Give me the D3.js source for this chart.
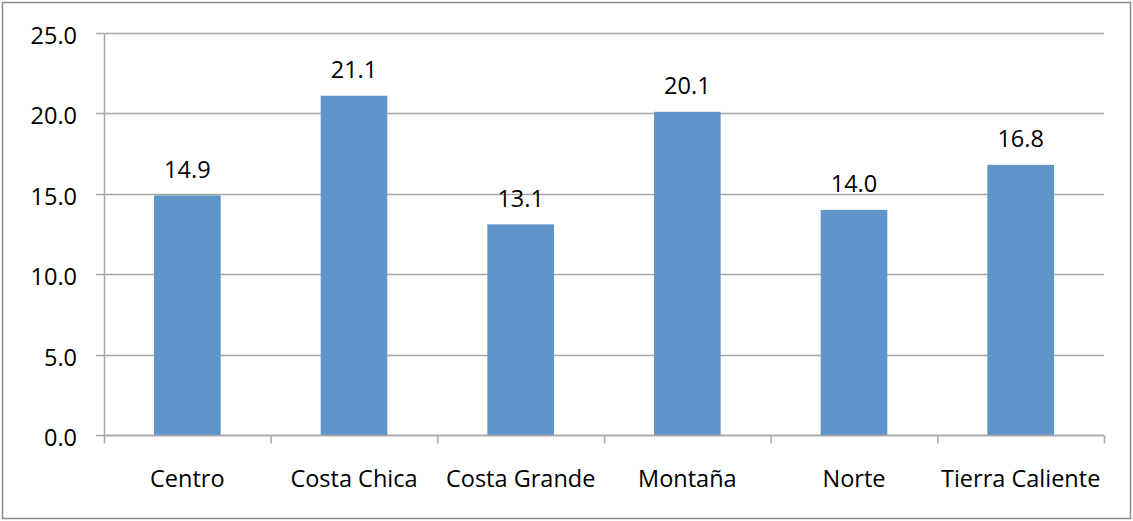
<!DOCTYPE html>
<html>
<head>
<meta charset="utf-8">
<script src="https://cdn.jsdelivr.net/npm/d3@7"></script>
<style>
  html, body { margin: 0; padding: 0; background: #fff; }
  svg text { font-family: "Open Sans", "Noto Sans", sans-serif; fill: #000; }
</style>
</head>
<body>
<svg id="chart" width="1133" height="521"></svg>
<script>
// Regions and their values
const regions = ["Centro", "Costa Chica", "Costa Grande", "Montaña", "Norte", "Tierra Caliente"];
const values = [14.9, 21.1, 13.1, 20.1, 14.0, 16.8];
const yTicks = [0, 5, 10, 15, 20, 25];

const W = 1133, H = 521;
const margin = { left: 104, right: 29, top: 33, bottom: 86 };
const fontSize = 23.5;
const svg = d3.select("#chart");

// Outer frame
svg.append("rect")
  .attr("x", 2.5).attr("y", 2.5)
  .attr("width", W - 5).attr("height", H - 5)
  .attr("fill", "#fff").attr("stroke", "#8c8c8c").attr("stroke-width", 1.5);

const x = d3.scaleBand()
  .domain(regions)
  .range([margin.left, W - margin.right])
  .paddingInner(0.6).paddingOuter(0.3);

const xOuter = d3.scaleBand()
  .domain(regions)
  .range([margin.left, W - margin.right]);

const y = d3.scaleLinear()
  .domain([0, 25])
  .range([H - margin.bottom, margin.top]);

const gridColor = "#a6a6a6";

// Horizontal gridlines with left tick marks
svg.append("g").selectAll("line")
  .data(yTicks)
  .join("line")
  .attr("x1", margin.left - 8)
  .attr("x2", W - margin.right)
  .attr("y1", d => Math.round(y(d)) + 0.5)
  .attr("y2", d => Math.round(y(d)) + 0.5)
  .attr("stroke", gridColor)
  .attr("stroke-width", 1.5);

// Y axis labels
svg.append("g").selectAll("text")
  .data(yTicks)
  .join("text")
  .attr("x", margin.left - 27)
  .attr("y", d => y(d) + 11)
  .attr("text-anchor", "end")
  .attr("font-size", fontSize)
  .text(d => d3.format(".1f")(d));

// Bars
svg.append("g").selectAll("rect")
  .data(values)
  .join("rect")
  .attr("x", (d, i) => x(regions[i]))
  .attr("width", x.bandwidth())
  .attr("y", d => y(d))
  .attr("height", d => y(0) - y(d))
  .attr("fill", "#6095c9");

// Value labels
svg.append("g").selectAll("text")
  .data(values)
  .join("text")
  .attr("x", (d, i) => x(regions[i]) + x.bandwidth() / 2)
  .attr("y", d => y(d) - 17.5)
  .attr("text-anchor", "middle")
  .attr("font-size", fontSize)
  .text(d => d3.format(".1f")(d));

// Y axis line
svg.append("line")
  .attr("x1", margin.left + 0.5).attr("x2", margin.left + 0.5)
  .attr("y1", y(25)).attr("y2", y(0))
  .attr("stroke", gridColor).attr("stroke-width", 1.5);

// X axis line and category tick marks
const y0 = Math.round(y(0)) + 0.5;
svg.append("line")
  .attr("x1", margin.left).attr("x2", W - margin.right)
  .attr("y1", y0).attr("y2", y0)
  .attr("stroke", gridColor).attr("stroke-width", 1.5);

const boundaries = regions.map(r => xOuter(r)).concat([W - margin.right]);
svg.append("g").selectAll("line")
  .data(boundaries)
  .join("line")
  .attr("x1", d => d + 0.5).attr("x2", d => d + 0.5)
  .attr("y1", y0).attr("y2", y0 + 8)
  .attr("stroke", gridColor).attr("stroke-width", 1.5);

// Category labels
svg.append("g").selectAll("text")
  .data(regions)
  .join("text")
  .attr("x", d => xOuter(d) + xOuter.bandwidth() / 2)
  .attr("y", 487)
  .attr("text-anchor", "middle")
  .attr("font-size", fontSize)
  .text(d => d);
</script>
</body>
</html>
